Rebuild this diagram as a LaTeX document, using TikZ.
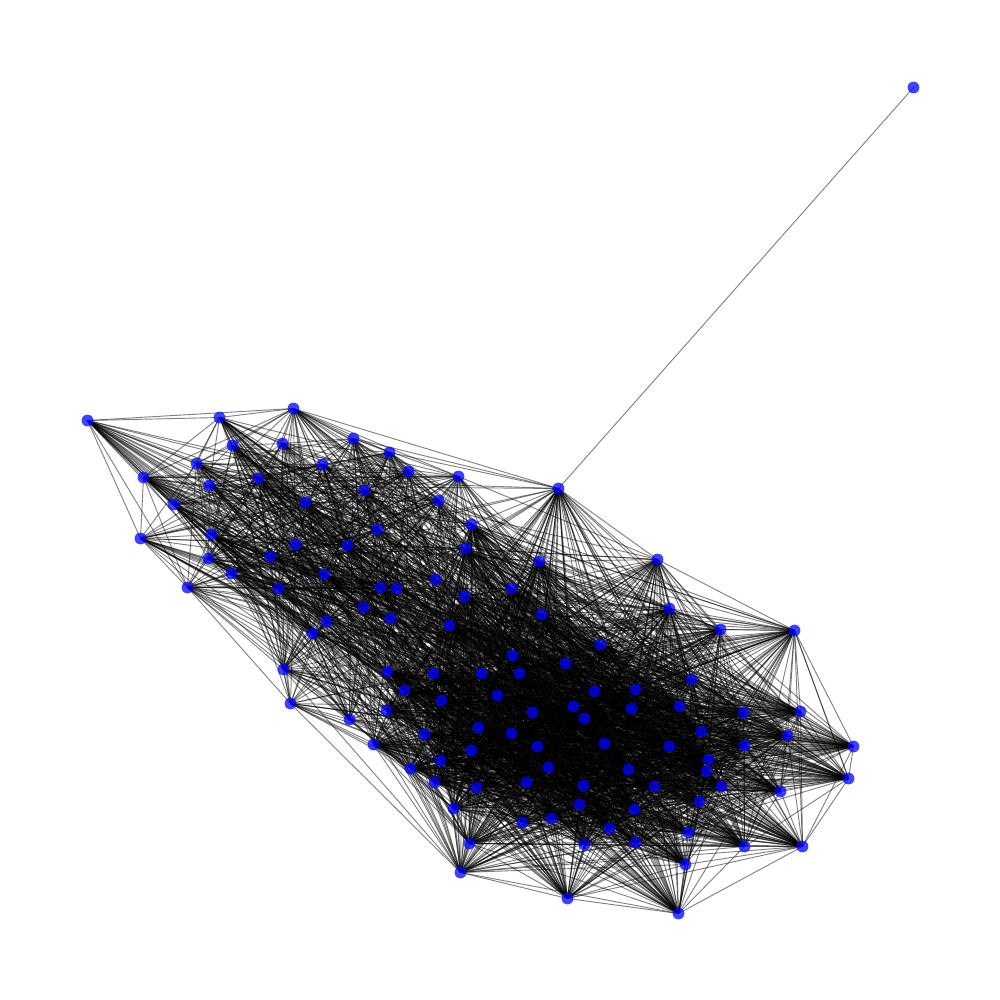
\documentclass[tikz,border=0pt]{standalone}
\pgfdeclarelayer{edges}
\pgfsetlayers{edges,main}
\tikzset{
  vertex/.style={circle,inner sep=0pt,minimum size=0.118cm,fill={rgb,255:red,0;green,0;blue,255},fill opacity=0.75,draw=none},
  link/.style={draw=black,line width=0.26pt,draw opacity=0.5}
}
\newcount\hv
\begin{document}
\begin{tikzpicture}[x=0.01cm,y=-0.01cm]
\useasboundingbox (-0.5,-0.5) rectangle (999.5,999.5);
\foreach \px/\py [count=\k] in {
913/87,558/488,87/420,219/417,293/408,353/438,143/477,140/538,187/587,283/669,290/703,460/872,567/898,678/913,802/846,848/778,853/746,794/630,657/559,
232/445,282/443,389/452,408/471,458/476,196/463,209/485,258/478,322/464,305/502,364/490,438/500,173/504,471/524,377/529,465/548,211/534,208/558,231/573,270/556,295/544,347/545,324/574,278/588,380/587,396/588,435/579,464/596,511/588,539/561,541/614,669/608,720/629,363/607,390/618,326/621,312/633,449/625,387/671,433/673,481/673,519/673,512/655,565/663,600/644,691/679,404/690,441/700,497/695,594/691,635/689,573/706,584/718,631/708,679/706,743/712,800/711,532/712,349/719,386/710,478/727,424/734,511/733,373/744,537/746,471/750,604/743,669/746,701/731,744/745,787/735,708/759,706/771,440/760,410/768,548/767,628/769,434/782,476/787,526/782,583/785,654/786,721/786,780/791,699/801,453/808,579/804,634/809,522/822,551/818,609/828,688/832,469/843,584/844,635/842,744/846,685/864}
{
  \node[vertex] (n\k) at (\px,\py) {};
  \expandafter\xdef\csname S\k\endcsname{\the\numexpr 17*\px+10*\py\relax}
}
\begin{pgfonlayer}{edges}
\draw[link] (n1.center) -- (n2.center);
\foreach \a/\b in {3/4,3/5,4/5,3/7,3/8,7/8,8/9,9/10,9/11,10/11,11/12,12/13,12/14,13/14,14/15,15/16,15/17,16/17,17/18,18/19,19/2,2/5,2/6,18/15,18/16,3/9,4/7,5/7,7/9,6/5,10/12,12/15,13/15,16/18,19/16}
  \draw[link] (n\a.center) -- (n\b.center);
\foreach \i in {2,...,116}{
  \foreach \j in {\i,...,116}{
    \ifnum\i<\j
     \ifnum\j>19
      \hv=\numexpr (\i*131+\j*17)*(\i*131+\j*17)+\i*\j*997+\j*\j*13\relax
      \hv=\numexpr \hv-((\hv-504)/1009)*1009\relax
      \hv=\numexpr \hv*\hv+\i*\i*\i*7+\j*263\relax
      \hv=\numexpr \hv-((\hv-504)/1009)*1009\relax
      \hv=\numexpr \hv*\hv+\j*\j*\i+\i*59\relax
      \hv=\numexpr \hv-((\hv-504)/1009)*1009\relax
      \ifnum\csname S\i\endcsname>13200
        \ifnum\csname S\j\endcsname>13200
          \def\lim{680}
        \else
          \def\lim{180}
        \fi
      \else
        \ifnum\csname S\j\endcsname>13200
          \def\lim{180}
        \else
          \def\lim{560}
        \fi
      \fi
      \ifnum\hv<\lim\relax
        \draw[link] (n\i.center) -- (n\j.center);
      \fi
     \fi
    \fi
  }
}
\end{pgfonlayer}
\end{tikzpicture}
\end{document}
